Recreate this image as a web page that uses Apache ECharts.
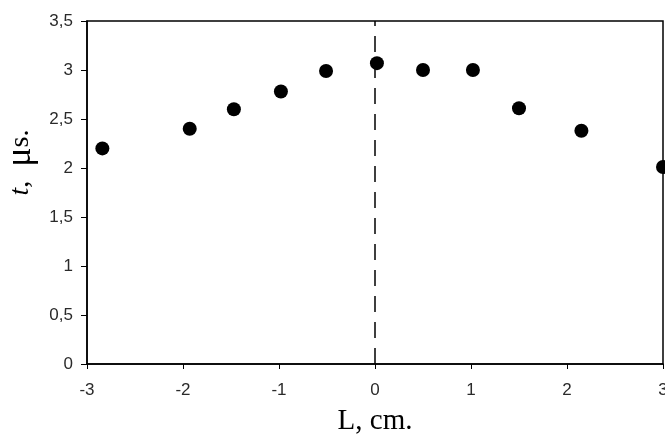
<!DOCTYPE html>
<html>
<head>
<meta charset="UTF-8">
<script src="https://cdn.jsdelivr.net/npm/echarts@6/dist/echarts.min.js"></script>
<style>
  html, body { margin: 0; padding: 0; background: #fff; }
  #chart { width: 665px; height: 444px; }
</style>
</head>
<body>
<div id="chart"></div>
<script>
  // measured points: position L (cm) and time t (us)
  const positions = [-2.84, -1.93, -1.47, -0.98, -0.51, 0.02, 0.5, 1.02, 1.5, 2.15, 3.0];
  const times = [2.2, 2.4, 2.6, 2.78, 2.99, 3.07, 3.0, 3.0, 2.61, 2.38, 2.01];

  const chart = echarts.init(document.getElementById('chart'));

  const comma = v => String(v).replace('.', ',');

  chart.setOption({
    animation: false,
    grid: {
      left: 87, right: 2, top: 21, bottom: 80,
      outerBoundsMode: 'none',
      show: true, borderColor: '#000', borderWidth: 1.5
    },
    xAxis: {
      type: 'value', min: -3, max: 3, interval: 1,
      axisLine: { show: true, onZero: false, lineStyle: { color: '#000', width: 1.5 } },
      axisTick: { show: true, length: 5, lineStyle: { color: '#000' } },
      splitLine: { show: false },
      axisLabel: { color: '#2a2a2a', fontFamily: 'Liberation Sans', fontSize: 17, margin: 18, formatter: comma, hideOverlap: false },
      name: 'L, cm.', nameLocation: 'middle', nameGap: 43,
      nameTextStyle: { fontFamily: 'Liberation Serif', fontSize: 29, color: '#000' }
    },
    yAxis: {
      type: 'value', min: 0, max: 3.5, interval: 0.5,
      axisLine: { show: true, onZero: false, lineStyle: { color: '#000', width: 1.5 } },
      axisTick: { show: true, length: 6, lineStyle: { color: '#000' } },
      splitLine: { show: false },
      axisLabel: { color: '#2a2a2a', fontFamily: 'Liberation Sans', fontSize: 17, margin: 14, formatter: comma },
      name: '{i|t},  {m|μ}s.', nameLocation: 'middle', nameGap: 45, nameRotate: 90,
      nameTextStyle: {
        fontFamily: 'Liberation Serif', fontSize: 28, color: '#000',
        padding: [0, 0, 0, 60],
        rich: {
          i: { fontStyle: 'italic', fontFamily: 'Liberation Serif', fontSize: 28 },
          m: { fontFamily: 'Liberation Serif', fontSize: 36 }
        }
      }
    },
    series: [{
      type: 'scatter',
      data: positions.map((x, i) => [x, times[i]]),
      symbol: 'circle', symbolSize: 14,
      itemStyle: { color: '#000', opacity: 1 },
      markLine: {
        silent: true, symbol: 'none', label: { show: false },
        lineStyle: { color: '#000', type: [16, 10], width: 1.5 },
        data: [{ xAxis: 0 }]
      }
    }]
  });
</script>
</body>
</html>
